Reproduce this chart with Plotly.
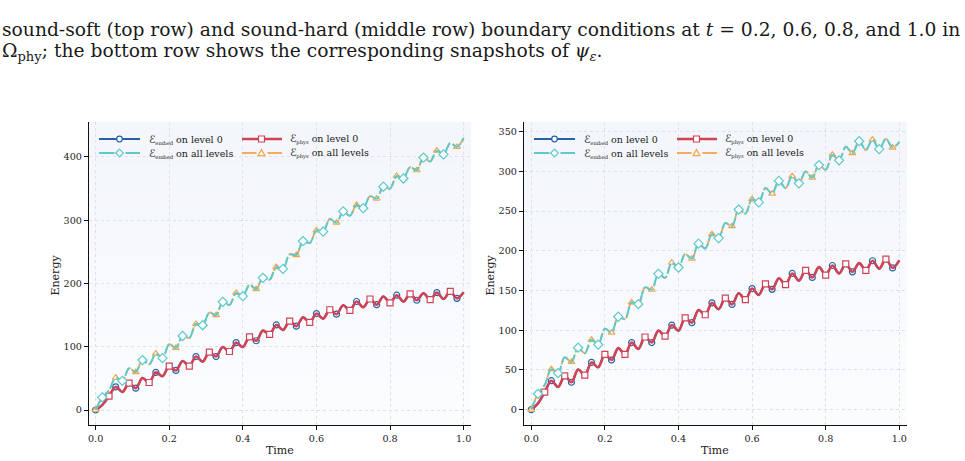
import numpy as np
import plotly.graph_objects as go

# ---------------- data ----------------
time = np.linspace(0.0, 1.0, 56)          # sample times

x_ticks = [0.0, 0.2, 0.4, 0.6, 0.8, 1.0]
x_tick_labels = ["0.0", "0.2", "0.4", "0.6", "0.8", "1.0"]
soft_y_ticks = [0, 100, 200, 300, 400]
hard_y_ticks = [0, 50, 100, 150, 200, 250, 300, 350]

# left panel (sound-soft)
soft_phys_level0 = [0, 8, 22, 36.5, 28.5, 42.5, 34.5, 50.5, 43.5, 59.5, 53.5, 69.5, 62.5, 77.5, 69.5,
                    84.5, 76.5, 91.5, 84.5, 99.5, 92.5, 106.5, 99.5, 115.5, 109.5, 125.5, 119.5, 134.5,
                    126.5, 140.5, 132.5, 146.5, 138.5, 152.5, 144.5, 158.5, 151.5, 165.5, 157.5, 171.5,
                    162.5, 175.5, 166.5, 179.5, 169.5, 181.5, 171.5, 183.5, 173.5, 184.5, 174.5, 185.5,
                    175.5, 187.5, 176.5, 186]
soft_embed_level0 = [0, 8, 22, 36.5, 28.5, 42.5, 34.5, 50.5, 43.5, 59.5, 53.5, 69.5, 62.5, 77.5, 69.5,
                     84.5, 76.5, 91.5, 84.5, 99.5, 92.5, 106.5, 99.5, 115.5, 109.5, 125.5, 119.5, 134.5,
                     126.5, 140.5, 132.5, 146.5, 138.5, 152.5, 144.5, 158.5, 151.5, 165.5, 157.5, 171.5,
                     162.5, 175.5, 166.5, 179.5, 169.5, 181.5, 171.5, 183.5, 173.5, 184.5, 174.5, 185.5,
                     175.5, 187.5, 176.5, 186]
soft_embed_all = [0, 20, 31, 51, 46, 66, 60, 79, 72, 89, 82, 104, 98, 117, 114, 136, 134, 154, 150,
                  171, 166, 185, 180, 198, 191, 209, 206, 226, 223, 246, 245, 267, 264, 284, 282, 302,
                  296, 314, 307, 324, 319, 338, 334, 353, 350, 370, 366, 384, 379, 399, 393, 410, 404,
                  422, 416, 430]
soft_phys_all = [0, 20, 31, 51, 46, 66, 60, 79, 72, 89, 82, 104, 98, 117, 114, 136, 134, 154, 150,
                 171, 166, 185, 180, 198, 191, 209, 206, 226, 223, 246, 245, 267, 264, 284, 282, 302,
                 296, 314, 307, 324, 319, 338, 334, 353, 350, 370, 366, 384, 379, 399, 393, 410, 404,
                 422, 416, 430]

# right panel (sound-hard)
hard_phys_level0 = [0, 8, 22, 36.5, 28.5, 42.5, 34.5, 50.5, 43.5, 59.5, 53.5, 69.5, 62.5, 77.5, 69.5,
                    84.5, 76.5, 91.5, 84.5, 99.5, 92.5, 106.5, 99.5, 115.5, 109.5, 125.5, 119.5, 134.5,
                    126.5, 140.5, 132.5, 146.5, 138.5, 152.5, 144.5, 158.5, 151.5, 165.5, 157.5, 171.5,
                    162.5, 175.5, 166.5, 179.5, 169.5, 181.5, 171.5, 183.5, 173.5, 184.5, 175.5, 187.5,
                    177.5, 189.5, 178.5, 188]
hard_embed_level0 = [0, 8, 22, 36.5, 28.5, 42.5, 34.5, 50.5, 43.5, 59.5, 53.5, 69.5, 62.5, 77.5, 69.5,
                     84.5, 76.5, 91.5, 84.5, 99.5, 92.5, 106.5, 99.5, 115.5, 109.5, 125.5, 119.5, 134.5,
                     126.5, 140.5, 132.5, 146.5, 138.5, 152.5, 144.5, 158.5, 151.5, 165.5, 157.5, 171.5,
                     162.5, 175.5, 166.5, 179.5, 169.5, 181.5, 171.5, 183.5, 173.5, 184.5, 175.5, 187.5,
                     177.5, 189.5, 178.5, 188]
hard_embed_all = [0, 20, 31, 51, 46, 66, 60, 78, 71, 88, 82, 102, 97, 117, 114, 135, 133, 154, 151,
                  171, 166, 185, 179, 196, 190, 209, 203, 221, 216, 235, 231, 252, 247, 265, 261, 279,
                  272, 288, 279, 294, 285, 300, 292, 308, 302, 321, 314, 331, 323, 338, 327, 340, 328,
                  341, 330, 337]
hard_phys_all = [0, 20, 31, 51, 46, 66, 60, 78, 71, 88, 82, 102, 97, 117, 114, 135, 133, 154, 151,
                 171, 166, 185, 179, 196, 190, 209, 203, 221, 216, 235, 231, 252, 247, 265, 261, 279,
                 272, 288, 279, 294, 285, 300, 292, 308, 302, 321, 314, 331, 323, 338, 327, 340, 328,
                 341, 330, 337]

E_GLYPH = "<span style=\"font-family:'DejaVu Sans';font-size:10.5px\">ℰ</span>"


def sub(s):
    return "<sub><span style=\"font-size:5.2px\">" + s + "</span></sub>"


legend_names = {
    "embed0": E_GLYPH + sub("embed") + " on level 0",
    "embedall": E_GLYPH + sub("embed") + " on all levels",
    "phys0": E_GLYPH + sub("phys") + " on level 0",
    "physall": E_GLYPH + sub("phys") + " on all levels",
}

caption_line1 = ("sound-soft (top row) and sound-hard (middle row) boundary conditions at "
                 "<i>t</i> = 0.2, 0.6, 0.8, and 1.0 in")
caption_line2 = "Ω<sub>phy</sub>; the bottom row shows the corresponding snapshots of <i>ψ<sub>ε</sub></i>."

# ---------------- styles ----------------
BLUE = "#2562a8"
CYAN = "#5cc9cb"
RED = "#cf4356"
ORANGE = "#f4a54c"
SERIF = "DejaVu Serif"
W, H = 965, 461


def px_x(p):
    return p / W


def px_y(p):
    return 1 - p / H


series_style = {
    "embed0": dict(color=BLUE, width=2.0, dash="solid", symbol="circle", msize=6, offset=0, stop=56),
    "phys0": dict(color=RED, width=2.6, dash="solid", symbol="square", msize=6, offset=2, stop=54),
    "physall": dict(color=ORANGE, width=1.8, dash="6px,3px", symbol="triangle-up", msize=6, offset=0, stop=56),
    "embedall": dict(color=CYAN, width=2.0, dash="10px,3px", symbol="diamond", msize=7, offset=1, stop=53),
}

panels = [
    ("x", "y", 89, {"embed0": soft_embed_level0, "phys0": soft_phys_level0,
                    "physall": soft_phys_all, "embedall": soft_embed_all}),
    ("x2", "y2", 524, {"embed0": hard_embed_level0, "phys0": hard_phys_level0,
                       "physall": hard_phys_all, "embedall": hard_embed_all}),
]

fig = go.Figure()
shapes = []
annotations = []
t = np.asarray(time)

for xa, ya, left, data in panels:
    for key in ["embed0", "phys0", "physall", "embedall"]:
        st = series_style[key]
        vals = np.asarray(data[key], dtype=float)
        fig.add_trace(go.Scatter(x=t, y=vals, mode="lines", xaxis=xa, yaxis=ya, showlegend=False,
                                 line=dict(color=st["color"], width=st["width"], dash=st["dash"],
                                           shape="spline", smoothing=1.0),
                                 hoverinfo="skip"))
        idx = np.arange(st["offset"], st["stop"], 3)
        fig.add_trace(go.Scatter(x=t[idx], y=vals[idx], mode="markers", xaxis=xa, yaxis=ya,
                                 showlegend=False,
                                 marker=dict(symbol=st["symbol"], size=st["msize"], color="white",
                                             line=dict(color=st["color"], width=1.2)),
                                 hoverinfo="skip"))

    # plot-area background: soft vertical gradient
    xdom = xa + " domain"
    ydom = ya + " domain"
    nb = 14
    for i in range(nb):
        f = i / (nb - 1)
        r = round(251 + (243 - 251) * f)
        g = round(252 + (246 - 252) * f)
        b = round(254 + (251 - 254) * f)
        shapes.append(dict(type="rect", xref=xdom, yref=ydom, x0=0, x1=1, y0=i / nb, y1=(i + 1) / nb,
                           fillcolor=f"rgb({r},{g},{b})", line=dict(width=0), layer="below"))

    # hand-built legend (two columns)
    cols = [(left + 10, left + 51, left + 30.5, left + 57.5, ["embed0", "embedall"]),
            (left + 153, left + 193, left + 172.5, left + 198.5, ["phys0", "physall"])]
    rows = [139, 153]
    for lx0, lx1, mx, tx, keys in cols:
        for ry, key in zip(rows, keys):
            st = series_style[key]
            if st["dash"] == "solid":
                segs = [(lx0, lx1)]
            else:
                segs = [(lx0, mx - 5), (mx + 6, lx1)]
            for a, b in segs:
                shapes.append(dict(type="line", xref="paper", yref="paper", x0=px_x(a), x1=px_x(b),
                                   y0=px_y(ry), y1=px_y(ry),
                                   line=dict(color=st["color"], width=st["width"]), layer="above"))
            s = 3.0
            if st["symbol"] == "circle":
                shapes.append(dict(type="circle", xref="paper", yref="paper",
                                   x0=px_x(mx - 2.8), x1=px_x(mx + 2.8), y0=px_y(ry + 2.8), y1=px_y(ry - 2.8),
                                   fillcolor="white", line=dict(color=st["color"], width=1.2), layer="above"))
            elif st["symbol"] == "square":
                shapes.append(dict(type="rect", xref="paper", yref="paper",
                                   x0=px_x(mx - s), x1=px_x(mx + s), y0=px_y(ry + s), y1=px_y(ry - s),
                                   fillcolor="white", line=dict(color=st["color"], width=1.2), layer="above"))
            elif st["symbol"] == "diamond":
                d = 3.8
                path = (f"M {px_x(mx)},{px_y(ry - d)} L {px_x(mx + d)},{px_y(ry)} "
                        f"L {px_x(mx)},{px_y(ry + d)} L {px_x(mx - d)},{px_y(ry)} Z")
                shapes.append(dict(type="path", xref="paper", yref="paper", path=path,
                                   fillcolor="white", line=dict(color=st["color"], width=1.2), layer="above"))
            else:
                d = 3.4
                path = (f"M {px_x(mx)},{px_y(ry - d)} L {px_x(mx + d)},{px_y(ry + d * 0.8)} "
                        f"L {px_x(mx - d)},{px_y(ry + d * 0.8)} Z")
                shapes.append(dict(type="path", xref="paper", yref="paper", path=path,
                                   fillcolor="white", line=dict(color=st["color"], width=1.2), layer="above"))
            annotations.append(dict(text=legend_names[key], x=px_x(tx), y=px_y(ry), xref="paper",
                                    yref="paper", xanchor="left", yanchor="middle", showarrow=False,
                                    font=dict(family=SERIF, size=9.5, color="#222222")))

    # axis titles
    annotations.append(dict(text="Time", x=px_x(left + (471 - 89) / 2), y=px_y(450), xref="paper",
                            yref="paper", xanchor="center", yanchor="middle", showarrow=False,
                            font=dict(family=SERIF, size=11, color="#222222")))
    annotations.append(dict(text="Energy", x=px_x(left - 34.5), y=px_y(275), xref="paper",
                            yref="paper", xanchor="center", yanchor="middle", showarrow=False,
                            textangle=-90, font=dict(family=SERIF, size=11, color="#222222")))

annotations.append(dict(text=caption_line1, x=0, y=px_y(30), xref="paper", yref="paper",
                        xanchor="left", yanchor="middle", showarrow=False,
                        font=dict(family=SERIF, size=18.7, color="#1a1a1a")))
annotations.append(dict(text=caption_line2, x=0, y=px_y(51.5), xref="paper", yref="paper",
                        xanchor="left", yanchor="middle", showarrow=False,
                        font=dict(family=SERIF, size=18.7, color="#1a1a1a")))

axis_common = dict(showline=True, linecolor="#111111", linewidth=1.4, mirror=False,
                   ticks="outside", ticklen=4, tickwidth=1, tickcolor="#111111",
                   showgrid=True, gridcolor="#dde1e9", griddash="dot", gridwidth=0.8,
                   zeroline=False, tickfont=dict(family=SERIF, size=9.6, color="#222222"))

yd = [px_y(425), px_y(122)]
fig.update_layout(
    width=W, height=H, margin=dict(l=0, r=0, t=0, b=0),
    paper_bgcolor="white", plot_bgcolor="rgba(0,0,0,0)",
    font=dict(family=SERIF, color="#222222"),
    showlegend=False,
    xaxis=dict(domain=[px_x(89), px_x(471)], range=[-0.018, 1.020], tickvals=x_ticks,
               ticktext=x_tick_labels, anchor="y", **axis_common),
    yaxis=dict(domain=yd, range=[-23.7, 455.3], tickvals=soft_y_ticks, anchor="x", **axis_common),
    xaxis2=dict(domain=[px_x(524), px_x(907)], range=[-0.0198, 1.021], tickvals=x_ticks,
                ticktext=x_tick_labels, anchor="y2", **axis_common),
    yaxis2=dict(domain=yd, range=[-19.3, 362.2], tickvals=hard_y_ticks, anchor="x2", **axis_common),
    shapes=shapes,
    annotations=annotations,
)

fig.write_html("out.html")
